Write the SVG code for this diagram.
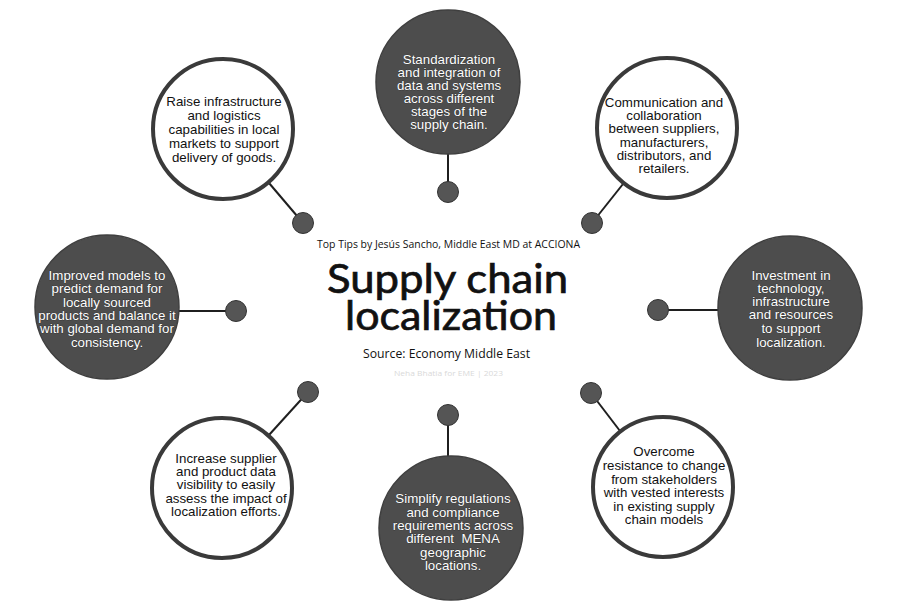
<svg xmlns="http://www.w3.org/2000/svg" width="900" height="605" viewBox="0 0 900 605">
<style>
.wc{fill:#ffffff;stroke:#3a3a3a;stroke-width:4}
.dc{fill:#4d4d4d;stroke:#3f3f3f;stroke-width:1.5}
.dot{fill:#555555;stroke:#333333;stroke-width:1}
.ln{stroke:#1f1f1f;stroke-width:2;fill:none}
.t{font-family:"Liberation Sans",Arial,sans-serif;font-size:13.3px;text-anchor:middle}
.tb{fill:#111111}
.tw{fill:#ffffff;stroke:#222222;stroke-width:0.5;paint-order:stroke}
.title{font-family:Lato,"Open Sans",sans-serif;font-size:40px;fill:#111111;stroke:#111111;stroke-width:0.7;text-anchor:middle}
.sub{font-family:"Open Sans","Noto Sans",sans-serif;fill:#111111;text-anchor:middle}
</style>
<rect width="900" height="605" fill="#ffffff"/>
<g id="connectors">
<line class="ln" x1="269" y1="183" x2="303" y2="223"/>
<line class="ln" x1="448" y1="153" x2="448" y2="192"/>
<line class="ln" x1="623" y1="184" x2="592" y2="223"/>
<line class="ln" x1="178" y1="311" x2="236" y2="311"/>
<line class="ln" x1="719" y1="310" x2="658" y2="310"/>
<line class="ln" x1="269" y1="435" x2="308" y2="392"/>
<line class="ln" x1="448" y1="457" x2="448" y2="415"/>
<line class="ln" x1="620" y1="431" x2="591" y2="393"/>
</g>
<g id="n1">
<circle class="wc" cx="223" cy="129" r="70"/>
<circle class="dot" cx="303" cy="223" r="10.5"/>
<text class="t tb"><tspan x="224" y="106">Raise infrastructure</tspan><tspan x="224" y="120">and logistics</tspan><tspan x="224" y="134">capabilities in local</tspan><tspan x="224" y="148">markets to support</tspan><tspan x="224" y="162">delivery of goods.</tspan></text>
</g>
<g id="n2">
<circle class="dc" cx="448" cy="82" r="72"/>
<circle class="dot" cx="448" cy="192" r="10.5"/>
<text class="t tw"><tspan x="449" y="64">Standardization</tspan><tspan x="449" y="77">and integration of</tspan><tspan x="449" y="90">data and systems</tspan><tspan x="449" y="103">across different</tspan><tspan x="449" y="116">stages of the</tspan><tspan x="449" y="129">supply chain.</tspan></text>
</g>
<g id="n3">
<circle class="wc" cx="667" cy="128" r="70"/>
<circle class="dot" cx="592" cy="223" r="10.5"/>
<text class="t tb"><tspan x="664" y="107">Communication and</tspan><tspan x="664" y="120">collaboration</tspan><tspan x="664" y="133">between suppliers,</tspan><tspan x="664" y="147">manufacturers,</tspan><tspan x="664" y="160">distributors, and</tspan><tspan x="664" y="173">retailers.</tspan></text>
</g>
<g id="n4">
<circle class="dc" cx="107" cy="307" r="72"/>
<circle class="dot" cx="236" cy="311" r="10.5"/>
<text class="t tw"><tspan x="107" y="280">Improved models to</tspan><tspan x="107" y="293">predict demand for</tspan><tspan x="107" y="307">locally sourced</tspan><tspan x="107" y="320">products and balance it</tspan><tspan x="107" y="333">with global demand for</tspan><tspan x="107" y="347">consistency.</tspan></text>
</g>
<g id="n5">
<circle class="dc" cx="790" cy="308" r="72"/>
<circle class="dot" cx="658" cy="310" r="10.5"/>
<text class="t tw"><tspan x="791" y="280">Investment in</tspan><tspan x="791" y="293">technology,</tspan><tspan x="791" y="306">infrastructure</tspan><tspan x="791" y="319">and resources</tspan><tspan x="791" y="333">to support</tspan><tspan x="791" y="347">localization.</tspan></text>
</g>
<g id="n6">
<circle class="wc" cx="222" cy="488" r="70"/>
<circle class="dot" cx="308" cy="392" r="10.5"/>
<text class="t tb"><tspan x="226" y="463">Increase supplier</tspan><tspan x="226" y="476">and product data</tspan><tspan x="226" y="489">visibility to easily</tspan><tspan x="226" y="503">assess the impact of</tspan><tspan x="226" y="516">localization efforts.</tspan></text>
</g>
<g id="n7">
<circle class="dc" cx="451" cy="528" r="72"/>
<circle class="dot" cx="448" cy="415" r="10.5"/>
<text class="t tw"><tspan x="453" y="503">Simplify regulations</tspan><tspan x="453" y="517">and compliance</tspan><tspan x="453" y="530">requirements across</tspan><tspan x="453" y="543">different &#160;MENA</tspan><tspan x="453" y="557">geographic</tspan><tspan x="453" y="570">locations.</tspan></text>
</g>
<g id="n8">
<circle class="wc" cx="663" cy="487" r="70"/>
<circle class="dot" cx="591" cy="393" r="10.5"/>
<text class="t tb"><tspan x="664" y="456">Overcome</tspan><tspan x="664" y="470">resistance to change</tspan><tspan x="664" y="484">from stakeholders</tspan><tspan x="664" y="497">with vested interests</tspan><tspan x="664" y="511">in existing supply</tspan><tspan x="664" y="524">chain models</tspan></text>
</g>
<g id="center">
<text class="sub" x="448.5" y="248" font-size="11" textLength="263" lengthAdjust="spacingAndGlyphs">Top Tips by Jesús Sancho, Middle East MD at ACCIONA</text>
<text class="title" x="447.5" y="293" textLength="241" lengthAdjust="spacingAndGlyphs">Supply chain</text>
<text class="title" x="451" y="330" textLength="212" lengthAdjust="spacingAndGlyphs">localization</text>
<text class="sub" x="446.5" y="358" font-size="12.5" textLength="167" lengthAdjust="spacingAndGlyphs">Source: Economy Middle East</text>
<text class="sub" x="448.5" y="376" font-size="8" style="fill:#d9d9d9" textLength="109" lengthAdjust="spacingAndGlyphs">Neha Bhatia for EME | 2023</text>
</g>
</svg>
